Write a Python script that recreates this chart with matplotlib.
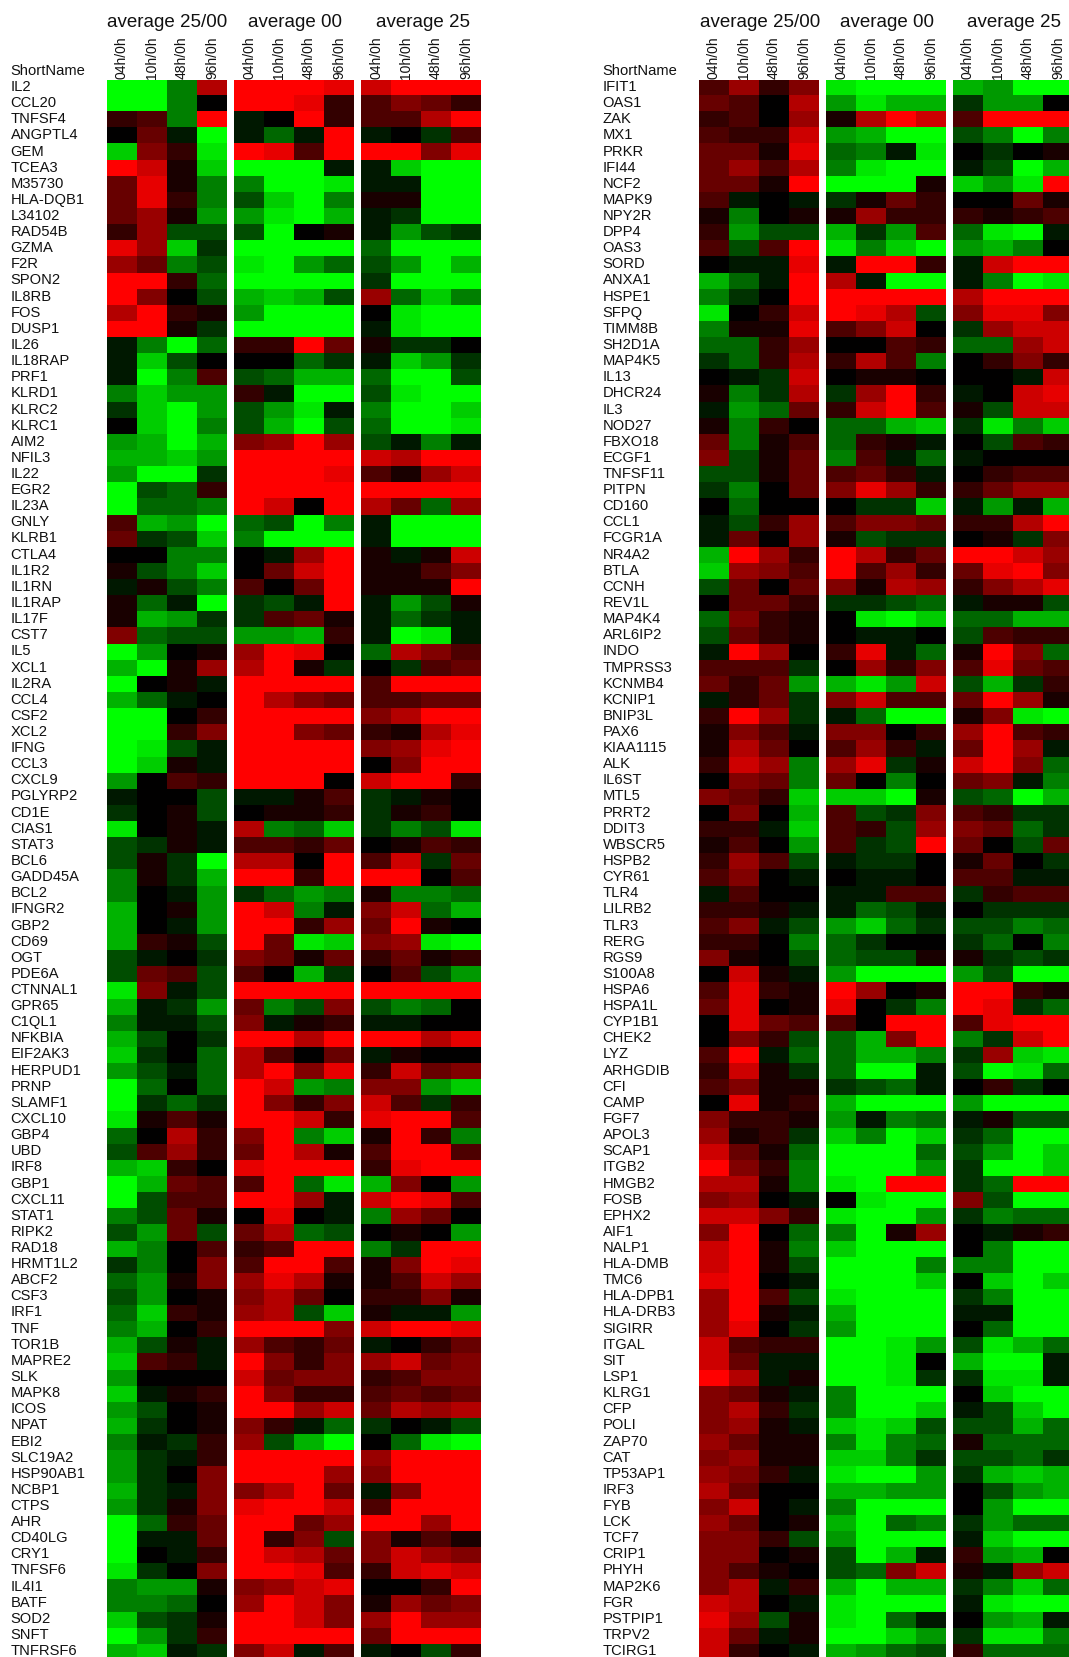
import numpy as np
import matplotlib
matplotlib.use("Agg")
import matplotlib.pyplot as plt
from matplotlib.colors import LinearSegmentedColormap

plt.rcParams['font.family'] = ['Liberation Sans', 'DejaVu Sans']

group_titles = ["average 25/00", "average 00", "average 25"]
time_labels = ["04h/0h", "10h/0h", "48h/0h", "96h/0h"]

left_names = """IL2 CCL20 TNFSF4 ANGPTL4 GEM TCEA3 M35730 HLA-DQB1 L34102 RAD54B GZMA F2R SPON2 IL8RB FOS DUSP1 IL26 IL18RAP PRF1 KLRD1
KLRC2 KLRC1 AIM2 NFIL3 IL22 EGR2 IL23A GNLY KLRB1 CTLA4 IL1R2 IL1RN IL1RAP IL17F CST7 IL5 XCL1 IL2RA CCL4 CSF2
XCL2 IFNG CCL3 CXCL9 PGLYRP2 CD1E CIAS1 STAT3 BCL6 GADD45A BCL2 IFNGR2 GBP2 CD69 OGT PDE6A CTNNAL1 GPR65 C1QL1 NFKBIA
EIF2AK3 HERPUD1 PRNP SLAMF1 CXCL10 GBP4 UBD IRF8 GBP1 CXCL11 STAT1 RIPK2 RAD18 HRMT1L2 ABCF2 CSF3 IRF1 TNF TOR1B MAPRE2
SLK MAPK8 ICOS NPAT EBI2 SLC19A2 HSP90AB1 NCBP1 CTPS AHR CD40LG CRY1 TNFSF6 IL4I1 BATF SOD2 SNFT TNFRSF6""".split()

right_names = """IFIT1 OAS1 ZAK MX1 PRKR IFI44 NCF2 MAPK9 NPY2R DPP4 OAS3 SORD ANXA1 HSPE1 SFPQ TIMM8B SH2D1A MAP4K5 IL13 DHCR24
IL3 NOD27 FBXO18 ECGF1 TNFSF11 PITPN CD160 CCL1 FCGR1A NR4A2 BTLA CCNH REV1L MAP4K4 ARL6IP2 INDO TMPRSS3 KCNMB4 KCNIP1 BNIP3L
PAX6 KIAA1115 ALK IL6ST MTL5 PRRT2 DDIT3 WBSCR5 HSPB2 CYR61 TLR4 LILRB2 TLR3 RERG RGS9 S100A8 HSPA6 HSPA1L CYP1B1 CHEK2
LYZ ARHGDIB CFI CAMP FGF7 APOL3 SCAP1 ITGB2 HMGB2 FOSB EPHX2 AIF1 NALP1 HLA-DMB TMC6 HLA-DPB1 HLA-DRB3 SIGIRR ITGAL SIT
LSP1 KLRG1 CFP POLI ZAP70 CAT TP53AP1 IRF3 FYB LCK TCF7 CRIP1 PHYH MAP2K6 FGR PSTPIP1 TRPV2 TCIRG1""".split()

# positive = red, negative = green, 0 = black; saturates at +/-10
left_values = [
[-10,-10,-5,7, 10,10,10,9, 8,10,10,10],
[-10,-10,-5,0, 10,10,9,2, 3,5,4,2],
[2,3,-5,10, -1,0,10,2, 3,3,7,10],
[0,4,-1,-10, -1,-4,-1,10, -1,0,-2,3],
[-8,5,2,-9, 10,9,3,10, 10,10,5,9],
[10,8,1,-8, -10,-10,-10,-1, -1,-8,-10,-10],
[4,9,1,-5, -5,-10,-10,-9, -1,-1,-10,-10],
[4,9,2,-5, -3,-8,-10,-5, 1,1,-10,-10],
[4,6,1,-6, -6,-9,-10,-7, -1,-2,-10,-10],
[2,6,-3,-3, -3,-10,0,1, -1,-6,-3,-2],
[9,6,-8,-2, -10,-10,-10,-10, -4,-10,-10,-10],
[6,4,-5,-3, -9,-10,-6,-4, -3,-6,-10,-7],
[10,10,2,-4, -10,-10,-10,-10, -2,-10,-10,-10],
[10,5,0,-3, -7,-8,-7,-3, 6,-4,-8,-5],
[7,10,2,1, -6,-10,-10,-10, 0,-9,-10,-10],
[10,10,1,-2, -10,-10,-10,-10, -1,-9,-10,-10],
[-1,-5,-10,-4, 2,2,10,4, 1,-2,-2,0],
[-1,-8,-3,0, 0,0,-4,-2, -1,-8,-6,-2],
[-1,-10,-5,3, -3,-4,-7,-7, -4,-10,-10,-3],
[-5,-8,-6,-6, 2,-1,-10,-10, -3,-9,-10,-10],
[-2,-8,-10,-6, -3,-6,-9,-1, -5,-10,-10,-8],
[0,-8,-10,-5, -3,-7,-10,-3, -4,-10,-10,-9],
[-6,-7,-10,-7, 5,6,10,6, -3,-1,-5,-1],
[-7,-7,-8,-6, 10,10,10,10, 8,7,10,10],
[-6,-10,-10,-2, 10,10,10,9, 3,1,6,8],
[-10,-3,-4,2, 10,10,10,10, 10,10,10,10],
[-10,-4,-4,-5, 10,8,0,10, 7,4,-4,6],
[3,-7,-6,-10, -4,-3,-10,-5, -1,-10,-10,-10],
[4,-2,-3,-8, -5,-10,-10,-10, -1,-10,-10,-10],
[0,0,-5,-5, 0,-1,6,10, 1,-1,1,8],
[1,-3,-5,-8, 0,4,8,10, 1,1,3,5],
[-1,1,-3,-5, 3,0,4,10, 1,1,1,10],
[1,-4,-1,-10, -2,-3,-1,10, -1,-6,-3,1],
[1,-7,-6,-2, -2,3,4,1, -1,-4,-2,-1],
[5,-4,-3,-3, -6,-6,-7,2, -1,-10,-9,-1],
[-10,-6,0,1, 6,10,9,0, -4,7,5,3],
[-7,-10,1,6, 7,10,1,-2, 0,-2,3,4],
[-10,0,1,-1, 10,10,10,10, 3,10,10,10],
[-7,-4,-1,0, 10,7,5,4, 3,3,4,4],
[-10,-10,0,2, 10,10,10,10, 5,7,10,10],
[-10,-10,2,5, 10,10,5,4, 2,1,7,9],
[-10,-9,-3,-1, 10,10,10,10, 5,6,9,10],
[-10,-8,1,-1, 10,10,10,10, 0,5,10,10],
[-6,0,3,2, 10,10,10,0, 8,10,10,2],
[-1,0,0,-3, -1,-1,1,3, -2,-1,1,0],
[-2,0,1,-3, 0,1,1,2, -2,1,2,0],
[-9,0,1,-1, 7,-5,-4,-8, -2,-5,-3,-9],
[-3,-2,1,-1, 3,3,2,4, 0,1,3,2],
[-3,1,-2,-10, 7,7,0,10, 3,8,-2,4],
[-5,1,-2,-7, 10,10,2,10, 10,10,0,3],
[-5,0,-1,-6, -2,-4,-6,-5, 1,-5,-5,-4],
[-7,0,1,-6, 10,8,-5,-1, 5,8,-4,-7],
[-7,0,-1,-6, 10,10,2,6, 4,10,1,0],
[-7,2,1,-3, 10,4,-9,-8, 5,6,-9,-10],
[-3,-1,0,-2, 5,4,1,4, 2,4,1,2],
[-3,4,3,-3, 3,0,-7,-2, 0,3,-3,-6],
[-9,5,-1,-3, 10,10,10,10, 10,10,10,10],
[-7,-1,-2,-6, 4,-5,-3,5, -3,-5,-4,0],
[-5,-1,-1,-3, 5,-1,1,2, -1,-1,0,0],
[-7,-3,0,-2, 10,10,7,10, 10,10,7,9],
[-8,-2,0,-4, 7,3,0,4, -1,1,0,0],
[-6,-3,-1,-4, 7,10,5,9, 2,8,4,5],
[-10,-4,0,-4, 10,8,-6,-5, 5,5,-6,-8],
[-10,-2,-4,-2, 10,5,2,5, 8,3,-2,2],
[-9,1,3,1, 10,10,8,2, 9,10,10,3],
[-4,0,7,2, 5,10,-5,-8, 1,10,2,-5],
[-3,3,6,2, 4,10,7,1, 3,10,10,3],
[-7,-8,2,0, 9,10,10,10, 2,9,10,10],
[-10,-7,4,3, 3,10,-4,-9, -7,5,0,-6],
[-10,-3,3,3, 10,10,6,-1, 8,10,9,3],
[-5,-3,4,1, 0,9,0,-1, -5,6,4,0],
[-3,-6,4,-3, 4,7,-4,-3, 0,1,0,-6],
[-7,-5,0,3, 2,3,10,10, -5,-2,10,10],
[-2,-5,0,5, 3,10,10,3, 1,5,10,9],
[-4,-6,1,5, 6,9,7,1, 1,3,8,6],
[-3,-6,0,1, 5,7,4,0, 2,2,5,1],
[-4,-8,2,1, 6,7,-3,-8, 1,-1,-1,-6],
[-5,-7,0,2, 10,10,10,5, 8,10,10,9],
[-7,-3,1,-1, 6,3,2,4, -1,0,2,4],
[-8,3,2,-1, 10,5,2,5, 6,8,4,5],
[-6,0,0,0, 8,4,5,5, 2,3,5,5],
[-8,-1,1,2, 10,5,2,2, 3,4,3,4],
[-6,-3,0,1, 10,10,6,8, 4,7,6,7],
[-7,-2,0,1, 5,2,-1,-4, -2,0,-1,-3],
[-5,-1,-2,2, 6,-3,-7,-10, 0,-4,-9,-10],
[-6,-2,-1,2, 10,10,10,10, 6,10,10,10],
[-6,-2,0,5, 10,10,10,6, 5,10,10,10],
[-7,-2,-1,5, 5,7,10,4, -1,5,10,10],
[-6,-2,1,5, 9,10,10,8, 3,10,10,10],
[-10,-4,2,4, 10,10,4,6, 10,10,6,10],
[-10,-1,-1,4, 10,2,5,-3, 5,1,3,1],
[-10,0,-1,2, 10,8,7,4, 5,8,6,5],
[-9,-2,0,5, 10,10,9,3, 2,8,9,8],
[-5,-6,-6,1, 5,6,8,9, 0,0,2,10],
[-5,-5,-4,0, 6,10,8,5, 1,6,4,5],
[-8,-3,-2,1, 10,10,8,5, 6,10,6,6],
[-10,-6,-2,2, 10,10,10,10, 4,10,10,10],
[-7,-8,-1,-2, 5,8,-1,3, -1,0,-3,2],
]

right_values = [
[3,6,2,5, -9,-10,-10,-10, -7,-6,-10,-10],
[4,3,0,7, -6,-9,-7,-7, -2,-6,-6,0],
[2,3,0,6, 1,7,10,8, 3,10,10,10],
[3,2,2,8, -6,-7,-10,-10, -3,-5,-10,-5],
[4,4,1,9, -4,-5,-1,-9, 0,-2,0,1],
[4,6,3,7, -5,-9,-10,-10, -1,-3,-10,-7],
[4,4,1,10, -10,-10,-10,1, -8,-6,-9,10],
[3,-1,0,-1, -2,1,4,2, 0,0,4,1],
[1,-5,0,1, 1,6,2,2, 2,1,2,3],
[2,-6,-3,-3, -7,-2,-6,3, -4,-9,-10,-1],
[3,-3,3,10, -9,-5,-8,-10, -6,-7,-5,0],
[0,-1,-1,9, -1,10,10,2, -1,8,10,10],
[-7,-4,-1,10, 7,-1,-10,-10, -1,-5,-10,-9],
[-5,-2,0,10, 10,10,10,10, 7,10,10,10],
[-9,0,2,8, 10,9,7,-3, 5,9,9,5],
[-5,1,1,9, 3,5,8,0, -2,6,8,8],
[-4,-4,2,6, 0,0,3,2, -4,-4,6,8],
[-2,-4,2,7, 2,7,3,-5, 0,2,5,2],
[0,-1,-2,8, 0,1,1,0, 0,0,-1,8],
[1,-5,-2,7, -2,6,10,2, -1,0,8,9],
[-1,-6,-4,4, 2,8,10,3, 1,-3,8,8],
[1,-5,2,0, -4,-4,-7,-8, -2,-9,-5,-8],
[4,-5,1,3, -4,2,1,-1, 0,-3,3,2],
[5,-3,1,4, -5,3,-1,-4, -1,0,0,0],
[-3,-3,1,4, 3,4,2,-1, 0,2,3,3],
[-2,-5,0,4, 5,9,6,2, 2,4,6,6],
[0,-4,0,0, 0,-2,-2,-8, -1,-6,-1,-7],
[-1,-3,2,6, 3,5,5,4, 2,2,7,10],
[-1,4,0,6, 1,-3,-2,-2, 0,1,-2,5],
[-7,10,6,2, 10,7,2,4, 10,10,8,6],
[-8,6,5,3, 10,3,6,2, 4,9,10,5],
[-3,4,0,4, 5,1,7,6, 2,5,7,9],
[0,4,4,2, -2,-2,-3,-4, -1,1,1,-3],
[-4,5,2,1, 0,-9,-10,-8, -4,-4,-7,-7],
[-3,4,2,1, 0,-1,-1,0, -3,3,2,2],
[-1,10,6,0, 2,9,-1,-4, 1,10,5,-4],
[3,3,3,-2, 0,6,2,5, 3,9,4,3],
[4,2,4,-6, -7,-9,-6,8, -3,-7,-2,2],
[-1,2,4,-2, 5,8,3,3, 4,10,6,1],
[2,10,6,-2, -1,-4,-10,-10, 1,5,-9,-10],
[1,5,3,-1, 5,5,0,2, 6,10,3,2],
[1,7,4,0, 3,6,2,-1, 4,10,6,-1],
[2,8,6,-5, 6,9,-2,1, 8,10,5,-4],
[0,5,4,-5, 4,0,-5,0, 4,5,-1,-5],
[5,4,2,-8, -8,-8,-10,1, -3,-4,-10,-7],
[0,5,0,-7, 3,-3,-2,5, 3,2,-2,-2],
[2,2,-1,-8, 3,2,-3,6, 5,4,-4,-2],
[1,3,0,-6, 3,-2,-3,10, 4,0,-3,4],
[2,6,3,-3, -1,-2,-2,0, 1,4,0,-2],
[3,5,0,-1, 0,-1,-1,0, 3,3,-1,-1],
[-1,3,0,0, -1,-1,3,3, -2,2,3,3],
[2,2,1,-1, -1,-4,-3,-1, 0,-2,-2,-2],
[3,5,-1,-3, -6,-8,-4,-2, -3,-3,-5,-4],
[2,2,0,-5, -4,-2,0,0, -2,-4,0,-5],
[5,1,0,-3, -4,-3,-3,1, 1,-2,-3,-2],
[0,8,1,-1, -6,-10,-10,-10, -6,-3,-10,-10],
[3,9,2,1, 10,6,0,1, 10,10,2,1],
[4,9,0,1, 9,0,-2,-5, 10,9,-2,-4],
[0,9,4,3, 3,0,10,10, 3,9,10,10],
[0,5,2,-3, -4,-7,5,10, -5,-2,8,10],
[3,10,-1,-4, -4,-7,-7,-5, -2,6,-8,-9],
[2,8,1,-2, -4,-10,-10,-1, -3,-10,-9,-4],
[3,5,1,1, -2,-3,-4,-1, 0,2,-2,0],
[0,9,1,2, -7,-10,-10,-10, -6,-10,-10,-10],
[5,2,2,1, -6,-1,-5,-4, -1,1,-3,-3],
[6,1,2,-2, -8,-5,-10,-8, -2,-4,-10,-10],
[8,4,1,-4, -10,-10,-10,-4, -3,-6,-10,-8],
[10,5,2,-5, -10,-10,-10,-6, -2,-10,-10,-8],
[7,7,1,-5, -9,-10,10,10, -2,-4,10,10],
[5,6,0,-1, 0,-9,-10,-10, 5,-3,-10,-10],
[8,8,5,2, -9,-10,-10,-6, -2,-5,-4,-4],
[5,10,0,-4, -5,-10,1,6, 0,-1,1,2],
[8,10,1,-5, -8,-10,-10,-10, 0,-5,-10,-10],
[8,10,1,-3, -10,-10,-10,-5, -5,-5,-10,-10],
[9,10,0,-1, -10,-10,-10,-8, 0,-8,-10,-8],
[6,10,3,-3, -9,-10,-10,-10, -2,-5,-10,-10],
[6,10,1,-1, -7,-10,-10,-10, -1,-1,-10,-10],
[6,9,0,-2, -6,-10,-10,-10, 0,-4,-10,-10],
[8,3,2,2, -10,-10,-9,-6, -3,-9,-7,-4],
[8,4,-1,-1, -10,-10,-9,0, -7,-10,-10,-1],
[10,7,-1,1, -10,-10,-9,-2, -2,-9,-9,-1],
[5,4,1,-1, -5,-10,-10,-10, 0,-8,-10,-10],
[5,7,2,-2, -5,-10,-10,-8, -1,-3,-8,-10],
[5,6,1,-1, -8,-9,-8,-3, -3,-3,-7,-4],
[6,4,1,1, -5,-9,-5,-4, 1,-4,-4,-4],
[5,6,1,1, -8,-8,-5,-2, -3,-3,-4,-2],
[6,5,2,-1, -9,-10,-10,-6, -2,-7,-8,-7],
[7,4,0,0, -7,-7,-6,-6, 0,-3,-6,-7],
[5,8,0,-1, -5,-10,-10,-10, 0,-6,-10,-10],
[6,4,0,1, -7,-10,-4,-5, -2,-6,-4,-4],
[5,5,2,-3, -6,-10,-10,-10, -1,-8,-10,-10],
[5,5,0,1, -3,-10,-7,-1, 2,-6,-7,0],
[5,3,1,0, -3,-4,5,8, 1,-1,6,8],
[5,7,-1,2, -7,-10,-7,-7, -2,-5,-8,-4],
[8,7,0,-1, -9,-10,-10,-10, -1,-9,-10,-10],
[9,6,-3,1, -9,-10,-4,-1, 0,-6,-7,-1],
[8,4,-1,1, -10,-10,-8,-6, -2,-9,-9,-5],
[8,2,0,-1, -7,-6,-4,-3, 2,-4,-4,-4],
]

W, H = 1069, 1657
TOP = 80.0
RH = 16.125
BW = 120.0
cmap = LinearSegmentedColormap.from_list("gbr", ["#00ff00", "#000000", "#ff0000"], N=256)

fig = plt.figure(figsize=(W / 100, H / 100), dpi=100, facecolor="white")


def panel(names, values, name_x, block_lefts, title_xs):
    arr = np.array(values, dtype=float)
    n = arr.shape[0]
    bottom = TOP + RH * n
    for b, x0 in enumerate(block_lefts):
        ax = fig.add_axes([x0 / W, 1 - bottom / H, BW / W, (bottom - TOP) / H])
        ax.imshow(arr[:, b * 4:b * 4 + 4], cmap=cmap, vmin=-10, vmax=10,
                  aspect="auto", interpolation="nearest")
        ax.axis("off")
        for c, lab in enumerate(time_labels):
            cx = x0 + (c + 0.5) * BW / 4
            fig.text(cx / W, 1 - 79 / H, lab, rotation=90, ha="center", va="bottom",
                     fontsize=10, color="#111111")
        ha = "left" if b == 0 else "center"
        fig.text(title_xs[b] / W, 1 - 27 / H, group_titles[b], ha=ha, va="baseline",
                 fontsize=13.5, color="#111111")
    fig.text(name_x / W, 1 - 75 / H, "ShortName", ha="left", va="baseline",
             fontsize=10.6, color="#111111")
    for i, name in enumerate(names):
        fig.text(name_x / W, 1 - (TOP + RH * i + 11) / H, name, ha="left", va="baseline",
                 fontsize=10.6, color="#111111")


panel(left_names, left_values, 10.5, [107, 234, 361], [107, 294.5, 422.5])
panel(right_names, right_values, 602.5, [699, 826, 953], [699.5, 886.7, 1014])

fig.savefig("out.png", dpi=100, facecolor="white")
